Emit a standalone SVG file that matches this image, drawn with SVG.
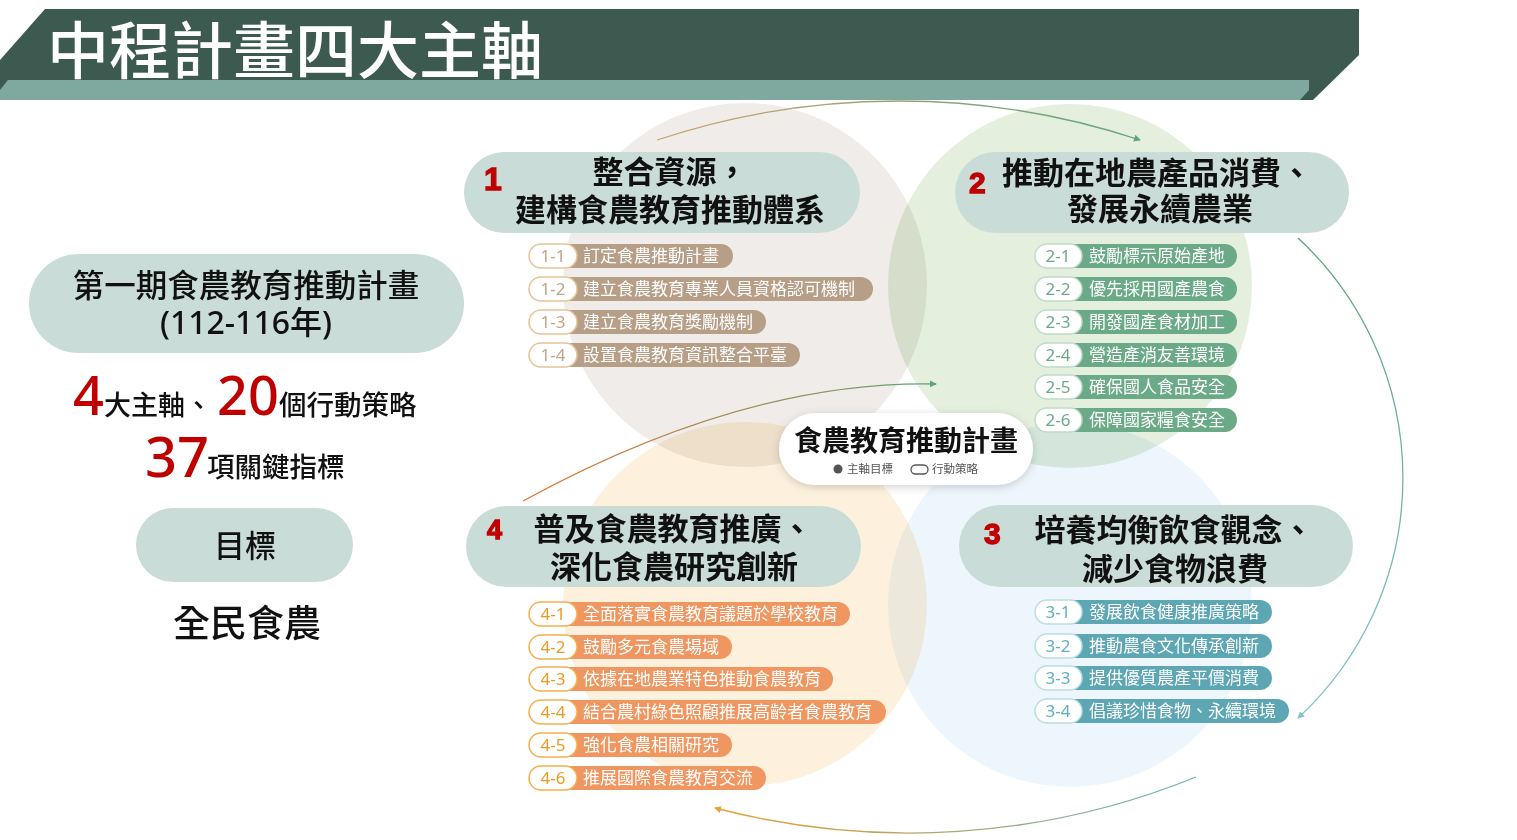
<svg xmlns="http://www.w3.org/2000/svg" width="1517" height="840" viewBox="0 0 1517 840">
<defs>
<style>
.cjk{font-family:"Noto Sans CJK TC","Noto Sans CJK SC",sans-serif}
.pill{fill:#C9DCD7}
.axt{font-family:"Noto Sans CJK TC",sans-serif;font-size:31px;font-weight:700;fill:#111;text-anchor:middle}
.axn{font-family:"Liberation Sans",Arial,sans-serif;font-weight:700;fill:#C00000;stroke:#C00000;stroke-width:1.3}
.circ{mix-blend-mode:multiply}
.wp{fill:#fff;stroke-width:1.5}
.st{font-family:"Noto Sans CJK TC",sans-serif;font-size:17px;fill:#fff}
.sn{font-family:"Noto Sans","Noto Sans CJK TC",sans-serif;font-size:17px;font-weight:400;text-anchor:middle}
.l1 .cp{fill:#B69E87}.l1 .wp{stroke:#E6C497}.l1 .sn{fill:#BFA48A}
.l2 .cp{fill:#6BAA87}.l2 .wp{stroke:#BFDCC9}.l2 .sn{fill:#6DAA88}
.l3 .cp{fill:#5DA6B3}.l3 .wp{stroke:#BADDE3}.l3 .sn{fill:#5FB0BC}
.l4 .cp{fill:#F09661}.l4 .wp{stroke:#F3B04E}.l4 .sn{fill:#EE9A22}
.red{fill:#C00000;font-family:"Noto Sans","Noto Sans CJK TC",sans-serif;font-weight:500}
.blk{fill:#111;font-family:"Noto Sans CJK TC",sans-serif;font-weight:500}
.arc{fill:none;stroke-width:1.3}
</style>
<filter id="sh" x="-20%" y="-40%" width="140%" height="180%">
<feDropShadow dx="0" dy="2" stdDeviation="4" flood-color="#000" flood-opacity="0.18"/>
</filter>
<linearGradient id="gTop" gradientUnits="userSpaceOnUse" x1="657" y1="0" x2="1140" y2="0">
<stop offset="0" stop-color="#C9A46E"/><stop offset="1" stop-color="#5FA57E"/>
</linearGradient>
<linearGradient id="gRight" gradientUnits="userSpaceOnUse" x1="0" y1="238" x2="0" y2="718">
<stop offset="0" stop-color="#5EA57A"/><stop offset="1" stop-color="#82C3CC"/>
</linearGradient>
<linearGradient id="gBot" gradientUnits="userSpaceOnUse" x1="1196" y1="0" x2="715" y2="0">
<stop offset="0" stop-color="#68B0BC"/><stop offset="1" stop-color="#EBA02F"/>
</linearGradient>
<linearGradient id="gLeft" gradientUnits="userSpaceOnUse" x1="523" y1="0" x2="936" y2="0">
<stop offset="0" stop-color="#E8702F"/><stop offset="1" stop-color="#5FA574"/>
</linearGradient>
<marker id="mTop" markerUnits="userSpaceOnUse" markerWidth="7" markerHeight="7" refX="6" refY="3.5" orient="auto"><path d="M0,0 L7,3.5 L0,7 z" fill="#5FA57E"/></marker>
<marker id="mRight" markerUnits="userSpaceOnUse" markerWidth="7" markerHeight="7" refX="6" refY="3.5" orient="auto"><path d="M0,0 L7,3.5 L0,7 z" fill="#82C3CC"/></marker>
<marker id="mBot" markerUnits="userSpaceOnUse" markerWidth="7" markerHeight="7" refX="6" refY="3.5" orient="auto"><path d="M0,0 L7,3.5 L0,7 z" fill="#EBA02F"/></marker>
<marker id="mLeft" markerUnits="userSpaceOnUse" markerWidth="7" markerHeight="7" refX="6" refY="3.5" orient="auto"><path d="M0,0 L7,3.5 L0,7 z" fill="#5FA574"/></marker>
</defs>
<rect width="1517" height="840" fill="#fff"/>

<g id="header">
<polygon points="45,9 1359,9 1359,55 1313,100 0,100 0,60" fill="#3D5A51"/>
<polygon points="8,80 1309,80 1309,90 1300,100 0,100 0,90" fill="#7FA89E"/>
<text x="47" y="74" class="cjk" font-size="62" font-weight="500" fill="#fff">中程計畫四大主軸</text>
</g>

<g id="circles">
<circle class="circ" cx="745" cy="285" r="182" fill="#F0ECE9"/>
<circle class="circ" cx="1070" cy="286" r="182" fill="#E4EFDE"/>
<circle class="circ" cx="745" cy="604" r="182" fill="#FDF1DE"/>
<circle class="circ" cx="1070" cy="605" r="182" fill="#EEF6FD"/>
</g>

<g id="connectors">
<path class="arc" d="M657,140 A767,767 0 0 1 1140,140" stroke="url(#gTop)" marker-end="url(#mTop)"/>
<path class="arc" d="M1298,238 A327,327 0 0 1 1298,718" stroke="url(#gRight)" marker-end="url(#mRight)"/>
<path class="arc" d="M1196,777 A764,764 0 0 1 715,808" stroke="url(#gBot)" marker-end="url(#mBot)"/>
<path class="arc" d="M523,501 Q745,380 936,384" stroke="url(#gLeft)" marker-end="url(#mLeft)"/>
</g>

<g id="plan">
<rect class="pill" x="29" y="254" width="435" height="99" rx="49.5"/>
<text x="246" y="297" class="blk" font-size="31.5" text-anchor="middle">第一期食農教育推動計畫</text>
<text x="246" y="334" font-family="'Noto Sans','Noto Sans CJK TC',sans-serif" font-size="32" font-weight="500" fill="#111" text-anchor="middle">(112-116年)</text>
</g>

<g id="stats">
<text y="415"><tspan x="73" class="red" font-size="54">4</tspan><tspan x="104" class="blk" font-size="27">大主軸、</tspan><tspan x="217" class="red" font-size="54">20</tspan><tspan x="279" class="blk" font-size="27.5">個行動策略</tspan></text>
<text y="477"><tspan x="145" class="red" font-size="56">37</tspan><tspan x="207" class="blk" font-size="27.5">項關鍵指標</tspan></text>
</g>

<g id="goal">
<rect class="pill" x="136" y="508" width="217" height="74" rx="37"/>
<text x="245" y="557" class="blk" font-size="31" text-anchor="middle">目標</text>
</g>
<g id="goal-text">
<text x="247" y="637" class="blk" font-size="37" text-anchor="middle">全民食農</text>
</g>

<g id="axis1">
<rect class="pill" x="464" y="152" width="396" height="81" rx="40.5"/>
<text x="484" y="190" class="axn" font-size="32">1</text>
<text x="670" y="183" class="axt">整合資源，</text>
<text x="670" y="221" class="axt">建構食農教育推動體系</text>
</g>

<g id="axis2">
<rect class="pill" x="955" y="152" width="394" height="81" rx="40.5"/>
<text x="969" y="193" class="axn" font-size="30">2</text>
<text x="1157" y="184" class="axt">推動在地農產品消費、</text>
<text x="1160" y="220" class="axt">發展永續農業</text>
</g>

<g id="axis4">
<rect class="pill" x="466" y="506" width="395" height="81" rx="40.5"/>
<text x="487" y="539" class="axn" font-size="27">4</text>
<text x="673" y="540" class="axt">普及食農教育推廣、</text>
<text x="674" y="578" class="axt">深化食農研究創新</text>
</g>

<g id="axis3">
<rect class="pill" x="959" y="505" width="394" height="82" rx="41"/>
<text x="984" y="544" class="axn" font-size="30">3</text>
<text x="1174" y="541" class="axt">培養均衡飲食觀念、</text>
<text x="1175" y="580" class="axt">減少食物浪費</text>
</g>

<g id="list1" class="l1">
<g id="s1-1"><rect class="cp" x="553" y="244" width="180" height="24" rx="12"/><rect class="wp" x="529" y="244" width="48" height="24" rx="12"/><text class="sn" x="553" y="262">1-1</text><text class="st" x="583" y="262">訂定食農推動計畫</text></g>
<g id="s1-2"><rect class="cp" x="553" y="277" width="320" height="24" rx="12"/><rect class="wp" x="529" y="277" width="48" height="24" rx="12"/><text class="sn" x="553" y="295">1-2</text><text class="st" x="583" y="295">建立食農教育專業人員資格認可機制</text></g>
<g id="s1-3"><rect class="cp" x="553" y="310" width="213" height="24" rx="12"/><rect class="wp" x="529" y="310" width="48" height="24" rx="12"/><text class="sn" x="553" y="328">1-3</text><text class="st" x="583" y="328">建立食農教育獎勵機制</text></g>
<g id="s1-4"><rect class="cp" x="553" y="343" width="247" height="24" rx="12"/><rect class="wp" x="529" y="343" width="48" height="24" rx="12"/><text class="sn" x="553" y="361">1-4</text><text class="st" x="583" y="361">設置食農教育資訊整合平臺</text></g>
</g>

<g id="list2" class="l2">
<g id="s2-1"><rect class="cp" x="1058" y="244" width="179" height="24" rx="12"/><rect class="wp" x="1035" y="244" width="47" height="24" rx="12"/><text class="sn" x="1058" y="262">2-1</text><text class="st" x="1089" y="262">鼓勵標示原始產地</text></g>
<g id="s2-2"><rect class="cp" x="1058" y="277" width="179" height="24" rx="12"/><rect class="wp" x="1035" y="277" width="47" height="24" rx="12"/><text class="sn" x="1058" y="295">2-2</text><text class="st" x="1089" y="295">優先採用國產農食</text></g>
<g id="s2-3"><rect class="cp" x="1058" y="310" width="179" height="24" rx="12"/><rect class="wp" x="1035" y="310" width="47" height="24" rx="12"/><text class="sn" x="1058" y="328">2-3</text><text class="st" x="1089" y="328">開發國產食材加工</text></g>
<g id="s2-4"><rect class="cp" x="1058" y="343" width="179" height="24" rx="12"/><rect class="wp" x="1035" y="343" width="47" height="24" rx="12"/><text class="sn" x="1058" y="361">2-4</text><text class="st" x="1089" y="361">營造產消友善環境</text></g>
<g id="s2-5"><rect class="cp" x="1058" y="375" width="179" height="24" rx="12"/><rect class="wp" x="1035" y="375" width="47" height="24" rx="12"/><text class="sn" x="1058" y="393">2-5</text><text class="st" x="1089" y="393">確保國人食品安全</text></g>
<g id="s2-6"><rect class="cp" x="1058" y="408" width="179" height="24" rx="12"/><rect class="wp" x="1035" y="408" width="47" height="24" rx="12"/><text class="sn" x="1058" y="426">2-6</text><text class="st" x="1089" y="426">保障國家糧食安全</text></g>
</g>

<g id="list3" class="l3">
<g id="s3-1"><rect class="cp" x="1058" y="600" width="214" height="24" rx="12"/><rect class="wp" x="1035" y="600" width="47" height="24" rx="12"/><text class="sn" x="1058" y="618">3-1</text><text class="st" x="1089" y="618">發展飲食健康推廣策略</text></g>
<g id="s3-2"><rect class="cp" x="1058" y="634" width="214" height="24" rx="12"/><rect class="wp" x="1035" y="634" width="47" height="24" rx="12"/><text class="sn" x="1058" y="652">3-2</text><text class="st" x="1089" y="652">推動農食文化傳承創新</text></g>
<g id="s3-3"><rect class="cp" x="1058" y="666" width="214" height="24" rx="12"/><rect class="wp" x="1035" y="666" width="47" height="24" rx="12"/><text class="sn" x="1058" y="684">3-3</text><text class="st" x="1089" y="684">提供優質農產平價消費</text></g>
<g id="s3-4"><rect class="cp" x="1058" y="699" width="231" height="24" rx="12"/><rect class="wp" x="1035" y="699" width="47" height="24" rx="12"/><text class="sn" x="1058" y="717">3-4</text><text class="st" x="1089" y="717">倡議珍惜食物、永續環境</text></g>
</g>

<g id="list4" class="l4">
<g id="s4-1"><rect class="cp" x="553" y="602" width="297" height="24" rx="12"/><rect class="wp" x="529" y="602" width="48" height="24" rx="12"/><text class="sn" x="553" y="620">4-1</text><text class="st" x="583" y="620">全面落實食農教育議題於學校教育</text></g>
<g id="s4-2"><rect class="cp" x="553" y="635" width="179" height="24" rx="12"/><rect class="wp" x="529" y="635" width="48" height="24" rx="12"/><text class="sn" x="553" y="653">4-2</text><text class="st" x="583" y="653">鼓勵多元食農場域</text></g>
<g id="s4-3"><rect class="cp" x="553" y="667" width="280" height="24" rx="12"/><rect class="wp" x="529" y="667" width="48" height="24" rx="12"/><text class="sn" x="553" y="685">4-3</text><text class="st" x="583" y="685">依據在地農業特色推動食農教育</text></g>
<g id="s4-4"><rect class="cp" x="553" y="700" width="333" height="24" rx="12"/><rect class="wp" x="529" y="700" width="48" height="24" rx="12"/><text class="sn" x="553" y="718">4-4</text><text class="st" x="583" y="718">結合農村綠色照顧推展高齡者食農教育</text></g>
<g id="s4-5"><rect class="cp" x="553" y="733" width="179" height="24" rx="12"/><rect class="wp" x="529" y="733" width="48" height="24" rx="12"/><text class="sn" x="553" y="751">4-5</text><text class="st" x="583" y="751">強化食農相關研究</text></g>
<g id="s4-6"><rect class="cp" x="553" y="766" width="213" height="24" rx="12"/><rect class="wp" x="529" y="766" width="48" height="24" rx="12"/><text class="sn" x="553" y="784">4-6</text><text class="st" x="583" y="784">推展國際食農教育交流</text></g>
</g>

<g id="center">
<rect x="779" y="413" width="254" height="72" rx="36" fill="#fff" filter="url(#sh)"/>
<text x="906" y="451" class="cjk" font-size="28" font-weight="700" fill="#111" text-anchor="middle">食農教育推動計畫</text>
<circle cx="838" cy="469" r="4.5" fill="#555"/>
<text x="847" y="473" class="cjk" font-size="11.5" fill="#555">主軸目標</text>
<rect x="911" y="465" width="17" height="9" rx="4.5" fill="none" stroke="#555" stroke-width="1.3"/>
<text x="932" y="473" class="cjk" font-size="11.5" fill="#555">行動策略</text>
</g>
</svg>
